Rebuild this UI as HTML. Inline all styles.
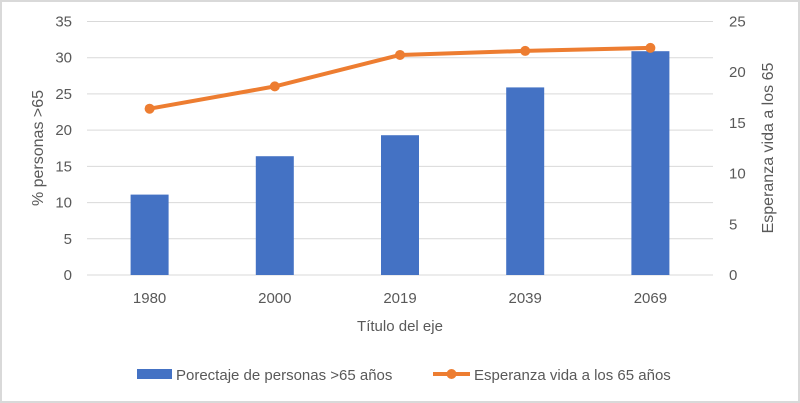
<!DOCTYPE html>
<html><head><meta charset="utf-8"><style>
body{margin:0;background:#fff;}
svg{display:block;font-family:"Liberation Sans",sans-serif;}
</style></head><body>
<svg id="chart" width="800" height="403" viewBox="0 0 800 403">
<rect x="1" y="1" width="798" height="401" fill="#fff" stroke="#d9d9d9" stroke-width="2"/>
<g id="grid"></g><g id="bars"></g><g id="line"></g><g id="labels"></g>
<text x="0" y="0" transform="translate(43,148) rotate(-90)" text-anchor="middle" font-size="16" fill="#595959">% personas &gt;65</text>
<text x="0" y="0" transform="translate(773,148) rotate(-90)" text-anchor="middle" font-size="16" fill="#595959">Esperanza vida a los 65</text>
<text x="400" y="331" text-anchor="middle" font-size="15" fill="#595959">Título del eje</text>
<g>
<rect x="137" y="369" width="35" height="10" fill="#4472c4"/>
<text x="176" y="380" font-size="15" fill="#595959">Porectaje de personas &gt;65 años</text>
<line x1="433" y1="374" x2="470" y2="374" stroke="#ed7d31" stroke-width="4"/>
<circle cx="451.5" cy="374" r="5" fill="#ed7d31"/>
<text x="474" y="380" font-size="15" fill="#595959">Esperanza vida a los 65 años</text>
</g>
</svg>
<script>
const categories=["1980","2000","2019","2039","2069"];
const pctValues=[11.1,16.4,19.3,25.9,30.9];
const lifeValues=[16.4,18.6,21.7,22.1,22.4];
const leftTicks=[0,5,10,15,20,25,30,35];
const rightTicks=[0,5,10,15,20,25];
const NS="http://www.w3.org/2000/svg";
const L=87,R=713,T=21.5,B=275;
const yL=v=>B-(v/35)*(B-T);
const yR=v=>B-(v/25)*(B-T);
const bw=(R-L)/categories.length;
const xC=i=>L+bw*(i+0.5);
function mk(tag,attrs,parent){const e=document.createElementNS(NS,tag);for(const k in attrs)e.setAttribute(k,attrs[k]);document.getElementById(parent).appendChild(e);return e;}
leftTicks.forEach(t=>{
 const g=mk("line",{x1:L,x2:R,y1:yL(t),y2:yL(t),stroke:"#d9d9d9","stroke-width":1},"grid");
 
 
 const tx=mk("text",{x:72,y:yL(t)+5,"text-anchor":"end","font-size":15,fill:"#595959"},"labels");
 tx.textContent=t;
 
 
});
rightTicks.forEach(t=>{
 const tx=mk("text",{x:729,y:yR(t)+5,"text-anchor":"start","font-size":15,fill:"#595959"},"labels");
 tx.textContent=t;
 
 
});
categories.forEach((c,i)=>{
 const r=mk("rect",{x:xC(i)-19,y:yL(pctValues[i]),width:38,height:B-yL(pctValues[i]),fill:"#4472c4"},"bars");
 
 
 const tx=mk("text",{x:xC(i),y:303,"text-anchor":"middle","font-size":15,fill:"#595959"},"labels");
 tx.textContent=c;
 
 
});
const pts=lifeValues.map((v,i)=>xC(i)+","+yR(v)).join(" ");
const pl=mk("polyline",{points:pts,fill:"none",stroke:"#ed7d31","stroke-width":4,"stroke-linejoin":"round"},"line");


lifeValues.forEach((v,i)=>{
 const c=mk("circle",{cx:xC(i),cy:yR(v),r:5,fill:"#ed7d31"},"line");
 
 
});
</script>
</body></html>
